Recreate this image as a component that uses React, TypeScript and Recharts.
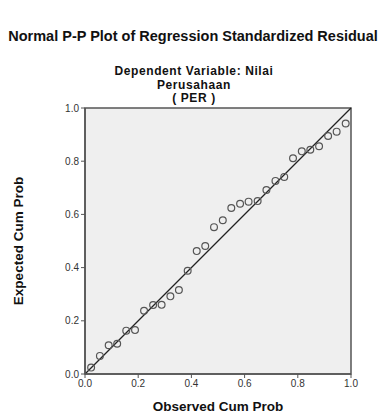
import {
  ScatterChart, Scatter, XAxis, YAxis, ReferenceLine, ReferenceArea, Label,
} from "recharts";

// ── Data ──────────────────────────────────────────────────────────
const observed = [
  0.023, 0.056, 0.089, 0.121, 0.155, 0.188, 0.222, 0.256, 0.288, 0.321,
  0.353, 0.386, 0.420, 0.452, 0.485, 0.518, 0.550, 0.583, 0.615, 0.649,
  0.682, 0.716, 0.749, 0.782, 0.815, 0.847, 0.880, 0.914, 0.946, 0.980,
];
const expected = [
  0.024, 0.068, 0.108, 0.114, 0.163, 0.165, 0.238, 0.259, 0.260, 0.292,
  0.316, 0.388, 0.462, 0.481, 0.552, 0.578, 0.624, 0.640, 0.648, 0.650,
  0.692, 0.726, 0.741, 0.811, 0.837, 0.843, 0.856, 0.895, 0.911, 0.942,
];
const ticks = [0, 0.2, 0.4, 0.6, 0.8, 1.0];

const title = "Normal P-P Plot of Regression Standardized Residual";
const subtitle = ["Dependent Variable: Nilai", "Perusahaan", "( PER )"];

const FONT = "Arial, 'Liberation Sans', sans-serif";
const AXIS = "#555";

const points = observed.map((x, i) => ({ x, y: expected[i] }));

const Ring = (p: any) => (
  <circle cx={p.cx} cy={p.cy} r={3.4} fill="none" stroke="#555" strokeWidth={1.2} />
);

export default function App() {
  return (
    <div style={{ position: "absolute", left: 0, top: 0, width: 380, height: 414, background: "#fff", fontFamily: FONT, overflow: "hidden" }}>
      <div style={{ position: "absolute", left: -10, width: 406, top: 28, textAlign: "center", fontWeight: "bold", fontSize: 14.5, color: "#111", whiteSpace: "nowrap" }}>
        {title}
      </div>
      <div style={{ position: "absolute", left: 94, width: 200, top: 65, textAlign: "center", fontWeight: "bold", fontSize: 12, lineHeight: "13.6px", letterSpacing: 0.6, color: "#111" }}>
        {subtitle.map(s => <div key={s}>{s}</div>)}
      </div>

      <ScatterChart width={380} height={414} margin={{ top: 108, right: 29, bottom: 0, left: 0 }}>
        <ReferenceArea x1={0} x2={1} y1={0} y2={1} fill="#EFEFEF" fillOpacity={1} stroke={AXIS} strokeWidth={1.5} />
        <XAxis
          type="number"
          dataKey="x"
          domain={[0, 1]}
          ticks={ticks}
          height={40}
          tickSize={4}
          stroke={AXIS}
          axisLine={{ stroke: AXIS, strokeWidth: 1.5 }}
          tick={{ fill: "#333", fontSize: 10, fontFamily: FONT }}
          tickFormatter={v => v.toFixed(1)}
        >
          <Label value="Observed Cum Prob" position="insideBottom" offset={3}
            style={{ fontWeight: "bold", fontSize: 13.5, fill: "#111", fontFamily: FONT }} />
        </XAxis>
        <YAxis
          type="number"
          dataKey="y"
          domain={[0, 1]}
          ticks={ticks}
          width={85}
          tickSize={4}
          stroke={AXIS}
          axisLine={{ stroke: AXIS, strokeWidth: 1.5 }}
          tick={{ fill: "#333", fontSize: 10, fontFamily: FONT }}
          tickFormatter={v => v.toFixed(1)}
        >
          <Label value="Expected Cum Prob" angle={-90} position="insideLeft" offset={18}
            style={{ textAnchor: "middle", fontWeight: "bold", fontSize: 13.5, fill: "#111", fontFamily: FONT }} />
        </YAxis>
        <ReferenceLine segment={[{ x: 0, y: 0 }, { x: 1, y: 1 }]} stroke="#222" strokeWidth={1.2} />
        <Scatter data={points} shape={Ring} isAnimationActive={false} />
      </ScatterChart>
    </div>
  );
}
